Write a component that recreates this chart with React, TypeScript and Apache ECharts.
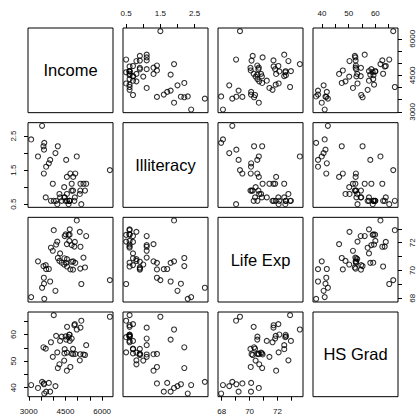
import React, { useEffect, useRef } from "react";
import * as echarts from "echarts";

const varNames = ["Income", "Illiteracy", "Life Exp", "HS Grad"];

const income = [3624, 6315, 4530, 3378, 5114, 4884, 5348, 4809, 4815, 4091, 4963, 4119, 5107, 4458, 4628, 4669, 3712, 3545, 3694, 5299, 4755, 4751, 4675, 3098, 4254, 4347, 4508, 5149, 4281, 5237, 3601, 4903, 3875, 5087, 4561, 3983, 4660, 4449, 4558, 3635, 4167, 3821, 4188, 4022, 3907, 4701, 4864, 3617, 4468, 4566];
const illiteracy = [2.1, 1.5, 1.8, 1.9, 1.1, 0.7, 1.1, 0.9, 1.3, 2.0, 1.9, 0.6, 0.9, 0.7, 0.5, 0.6, 1.6, 2.8, 0.7, 0.9, 1.1, 0.9, 0.6, 2.4, 0.8, 0.6, 0.6, 0.5, 0.7, 1.1, 2.2, 1.4, 1.8, 0.8, 0.8, 1.1, 0.6, 1.0, 1.3, 2.3, 0.5, 1.7, 2.2, 0.6, 0.6, 1.4, 0.6, 1.4, 0.7, 0.6];
const lifeExp = [69.05, 69.31, 70.55, 70.66, 71.71, 72.06, 72.48, 70.06, 70.66, 68.54, 73.6, 71.87, 70.14, 70.88, 72.56, 72.58, 70.1, 68.76, 70.39, 70.22, 71.83, 70.63, 72.96, 68.09, 70.69, 70.56, 72.6, 69.03, 71.23, 70.93, 70.32, 70.55, 69.21, 72.78, 70.82, 71.42, 72.13, 70.43, 71.9, 67.96, 72.08, 70.11, 70.9, 72.9, 71.64, 70.08, 71.72, 69.48, 72.48, 70.29];
const hsGrad = [41.3, 66.7, 58.1, 39.9, 62.6, 63.9, 56.0, 54.6, 52.6, 40.6, 61.9, 59.5, 52.6, 52.9, 59.0, 59.9, 38.5, 42.2, 54.7, 52.3, 58.5, 52.8, 57.6, 41.0, 48.8, 59.2, 59.3, 65.2, 57.6, 52.5, 55.2, 52.7, 38.5, 50.3, 53.2, 51.6, 60.0, 50.2, 46.4, 37.8, 53.3, 41.8, 47.4, 67.3, 57.1, 47.8, 63.5, 41.6, 54.5, 62.9];

const incomeTicks = [3000, 3500, 4000, 4500, 5000, 5500, 6000];
const incomeLabels = [3000, 4500, 6000];
const illiteracyTicks = [0.5, 1.0, 1.5, 2.0, 2.5];
const illiteracyLabels = [0.5, 1.5, 2.5];
const lifeExpTicks = [68, 69, 70, 71, 72, 73];
const lifeExpLabels = [68, 70, 72];
const hsGradTicks = [40, 45, 50, 55, 60, 65];
const hsGradLabels = [40, 50, 60];

const vars = [income, illiteracy, lifeExp, hsGrad];
const ticks = [incomeTicks, illiteracyTicks, lifeExpTicks, hsGradTicks];
const labels = [incomeLabels, illiteracyLabels, lifeExpLabels, hsGradLabels];

const FONT = "Liberation Sans, Arial, Helvetica, sans-serif";

export default function App() {
  const ref = useRef<HTMLDivElement>(null);
  useEffect(() => {
    if (!ref.current) return;
    const chart = echarts.init(ref.current, null, { renderer: "svg" });
    const n = 4;
    const ext = vars.map((v) => {
      const lo = Math.min(...v);
      const hi = Math.max(...v);
      const d = (hi - lo) * 0.04;
      return [lo - d, hi + d];
    });
    const L0 = 28, T0 = 28, W = 85, H = 84.67, SX = 95, SY = 94.67;
    const grids: any[] = [];
    const xAxes: any[] = [];
    const yAxes: any[] = [];
    const series: any[] = [];
    const graphics: any[] = [];
    const tickLen = 4;
    const fmt = (v: number) => String(v);
    const labelStyle = { fontSize: 8, color: "#111", fontFamily: FONT, formatter: fmt };
    for (let i = 0; i < n; i++) {
      for (let j = 0; j < n; j++) {
        const g = i * n + j;
        const left = L0 + j * SX;
        const top = T0 + i * SY;
        grids.push({ left, top, width: W, height: H, show: true, borderColor: "#000", borderWidth: 1, backgroundColor: "transparent", containLabel: false });
        const xTop = i === 0 && j % 2 === 1;
        const xBottom = i === n - 1 && j % 2 === 0;
        const yLeft = j === 0 && i % 2 === 1;
        const yRight = j === n - 1 && i % 2 === 0;
        const xShow = xTop || xBottom;
        const yShow = yLeft || yRight;
        xAxes.push({
          gridIndex: g, type: "value", min: ext[j][0], max: ext[j][1],
          position: xTop ? "top" : "bottom",
          axisLine: { show: false }, splitLine: { show: false },
          axisTick: { show: xShow, customValues: ticks[j], length: tickLen, lineStyle: { color: "#000", width: 1 } },
          axisLabel: { show: xShow, customValues: labels[j], margin: 10.5, ...labelStyle },
        });
        yAxes.push({
          gridIndex: g, type: "value", min: ext[i][0], max: ext[i][1],
          position: yRight ? "right" : "left",
          axisLine: { show: false }, splitLine: { show: false },
          axisTick: { show: yShow, customValues: ticks[i], length: tickLen, lineStyle: { color: "#000", width: 1 } },
          axisLabel: { show: yShow, customValues: labels[i], margin: 10.5, rotate: 90, ...labelStyle },
        });
        if (i === j) {
          graphics.push({
            type: "text", x: left + W / 2, y: top + H / 2,
            style: { text: varNames[i], fontSize: 16.5, fontFamily: FONT, fill: "#000", align: "center", verticalAlign: "middle" },
          });
        } else {
          series.push({
            type: "scatter", xAxisIndex: g, yAxisIndex: g, silent: true,
            symbol: "circle", symbolSize: 5,
            itemStyle: { color: "rgba(0,0,0,0)", borderColor: "#000", borderWidth: 1.1 },
            data: vars[j].map((x, k) => [x, vars[i][k]]),
          });
        }
      }
    }
    chart.setOption({
      animation: false,
      backgroundColor: "#fff",
      grid: grids, xAxis: xAxes, yAxis: yAxes, series, graphic: graphics,
    });
    return () => chart.dispose();
  }, []);
  return <div ref={ref} style={{ position: "fixed", left: 0, top: 0, width: 419, height: 416 }} />;
}
